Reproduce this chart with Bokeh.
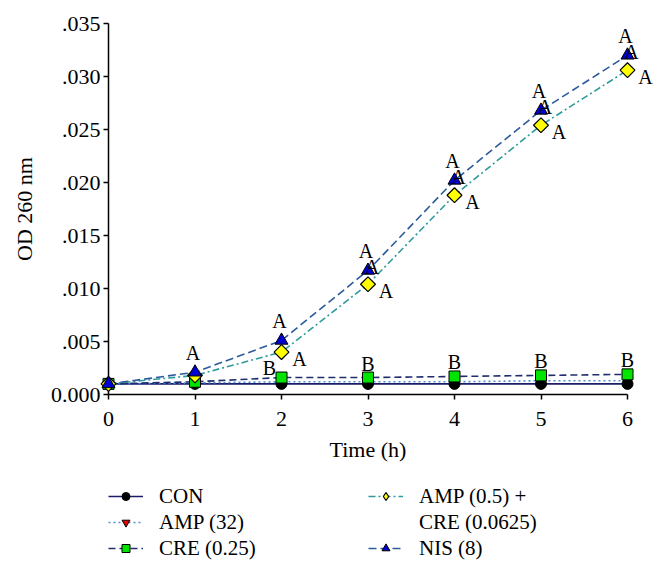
import math
from bokeh.plotting import figure
from bokeh.models import ColumnDataSource, Legend, LegendItem, FixedTicker
from bokeh.layouts import column
from bokeh.core.properties import value
from bokeh.embed import file_html
from bokeh.resources import INLINE

# ---- data ----
time = [0, 1, 2, 3, 4, 5, 6]
con = [0.0010, 0.0010, 0.0010, 0.0010, 0.0010, 0.0010, 0.0010]
amp32 = [0.0010, 0.0011, 0.0012, 0.0012, 0.0012, 0.0013, 0.0013]
cre025 = [0.0010, 0.0012, 0.0016, 0.0016, 0.0017, 0.0018, 0.0019]
amp_cre = [0.0010, 0.0018, 0.0040, 0.0104, 0.0188, 0.0254, 0.0306]
nis8 = [0.0010, 0.0021, 0.0051, 0.0117, 0.0202, 0.0268, 0.0320]

nis_letter = ["", "A", "A", "A", "A", "A", "A"]
nis_letter2 = ["", "", "", "A", "A", "A", "A"]
amp_cre_letter = ["", "", "A", "A", "A", "A", "A"]
cre_letter = ["", "", "B", "B", "B", "B", "B"]

x_ticks = [0, 1, 2, 3, 4, 5, 6]
y_ticks = [0.0, 0.005, 0.010, 0.015, 0.020, 0.025, 0.030, 0.035]
y_tick_labels = ["0.000", ".005", ".010", ".015", ".020", ".025", ".030", ".035"]

legend_labels = ["CON", "AMP (32)", "CRE (0.25)", "AMP (0.5) +", "CRE (0.0625)", "NIS (8)"]

# ---- styles ----
FONT = "Liberation Serif"
LV = "overlay"
cre_label_dx = [0, 0, -12, 0, 0, 0, 0]
cre_label_dy = [0, 0, -10, -14, -14, -14, -14]

line_styles = {
    "con": dict(line_color="#1c1c6b", line_width=1.6),
    "amp32": dict(line_color="#4f8fd6", line_width=1.6, line_dash="2 3"),
    "cre": dict(line_color="#1f2d6e", line_width=1.6, line_dash="7 4"),
    "combo": dict(line_color="#2e9a9a", line_width=1.6, line_dash="7 3 2 3"),
    "nis": dict(line_color="#2c5a9a", line_width=1.6, line_dash="8 4"),
}
marker_styles = {
    "amp32": dict(marker="inverted_triangle", size=10, fill_color="#e00000", line_color="black", line_width=1),
    "con": dict(marker="circle", size=11, fill_color="black", line_color="black", line_width=1),
    "cre": dict(marker="square", size=11, fill_color="#00e400", line_color="black", line_width=1),
    "combo": dict(marker="square", size=10.5, angle=math.pi / 4, fill_color="#ffff00",
                  line_color="black", line_width=1.2),
    "nis": dict(marker="triangle", size=13, fill_color="#0000d0", line_color="black", line_width=1),
}
legend_marker_styles = {
    "amp32": dict(marker="inverted_triangle", size=9, fill_color="#e00000", line_color="black", line_width=1),
    "con": dict(marker="circle", size=10, fill_color="black", line_color="black", line_width=1),
    "cre": dict(marker="square", size=10, fill_color="#00e400", line_color="black", line_width=1),
    "combo": dict(marker="diamond", size=14, fill_color="#ffff00", line_color="black", line_width=1.2),
    "nis": dict(marker="triangle", size=11, fill_color="#0000d0", line_color="black", line_width=1),
}

p = figure(width=660, height=468, x_range=(0, 6), y_range=(0, 0.035),
           output_backend="svg", toolbar_location=None,
           min_border_left=108, min_border_right=33, min_border_top=23, min_border_bottom=74)
p.grid.visible = False
p.outline_line_color = None
p.background_fill_color = "white"

src = ColumnDataSource(dict(t=time, con=con, amp32=amp32, cre=cre025, combo=amp_cre, nis=nis8,
                            nl=nis_letter, nl2=nis_letter2, cl=amp_cre_letter, bl=cre_letter,
                            bdx=cre_label_dx, bdy=cre_label_dy))

for k in ["con", "amp32", "cre", "combo", "nis"]:
    p.line("t", k, source=src, level=LV, **line_styles[k])
for k in ["amp32", "con", "cre", "combo", "nis"]:
    p.scatter("t", k, source=src, level=LV, **marker_styles[k])

txt = dict(text_font=value(FONT), text_font_size="20px", text_color="black",
           text_align="center", text_baseline="middle", level=LV)
p.text("t", "nis", text="nl", source=src, x_offset=-2, y_offset=-19, **txt)
p.text("t", "nis", text="nl2", source=src, x_offset=4, y_offset=-3, **txt)
p.text("t", "combo", text="cl", source=src, x_offset=18, y_offset=7, **txt)
p.text("t", "cre", text="bl", source=src, x_offset="bdx", y_offset="bdy", **txt)

p.xaxis.ticker = FixedTicker(ticks=x_ticks)
p.yaxis.ticker = FixedTicker(ticks=y_ticks)
p.yaxis.major_label_overrides = {t: l for t, l in zip(y_ticks, y_tick_labels)}
for ax in (p.xaxis[0], p.yaxis[0]):
    ax.axis_line_color = "black"
    ax.axis_line_width = 1.5
    ax.major_tick_line_color = "black"
    ax.major_tick_line_width = 1.5
    ax.major_tick_in = 0
    ax.major_tick_out = 5
    ax.minor_tick_line_color = None
    ax.major_label_text_font = FONT
    ax.major_label_text_font_size = "22px"
    ax.major_label_text_color = "black"
    ax.axis_label_text_font = FONT
    ax.axis_label_text_font_size = "22px"
    ax.axis_label_text_font_style = "normal"
    ax.axis_label_text_color = "black"
p.xaxis.axis_label = "Time (h)"
p.yaxis.axis_label = "OD 260 nm"
p.xaxis.major_label_standoff = 12
p.yaxis.major_label_standoff = 3
p.xaxis.axis_label_standoff = 8
p.yaxis.axis_label_standoff = 11

# ---- legend panel (separate figure; its renderers sit outside its range) ----
lp = figure(width=660, height=100, x_range=(0, 1), y_range=(0, 1),
            output_backend="svg", toolbar_location=None,
            x_axis_location=None, y_axis_location=None,
            min_border_left=108, min_border_right=33, min_border_top=0, min_border_bottom=0)
lp.grid.visible = False
lp.outline_line_color = None
hidden = ColumnDataSource(dict(x=[-10], y=[-10]))
leg_rend = {}
for k in ["con", "amp32", "cre", "combo", "nis"]:
    leg_rend[k] = [lp.line("x", "y", source=hidden, **line_styles[k]),
                   lp.scatter("x", "y", source=hidden, **legend_marker_styles[k])]
rend = [leg_rend["con"], leg_rend["amp32"], leg_rend["cre"], leg_rend["combo"], [], leg_rend["nis"]]
items = [LegendItem(label=lab, renderers=r) for lab, r in zip(legend_labels, rend)]
leg = Legend(items=items, nrows=3, orientation="vertical", location=(0, 7),
             label_text_font=FONT, label_text_font_size="21px", label_text_color="black",
             glyph_width=35, glyph_height=20, label_standoff=16, label_height=26, label_width=209,
             spacing=0, padding=0, margin=0, border_line_color=None, background_fill_alpha=0)
lp.add_layout(leg, "center")

layout = column(p, lp, spacing=0)
open("out.html", "w").write(file_html(layout, INLINE))
